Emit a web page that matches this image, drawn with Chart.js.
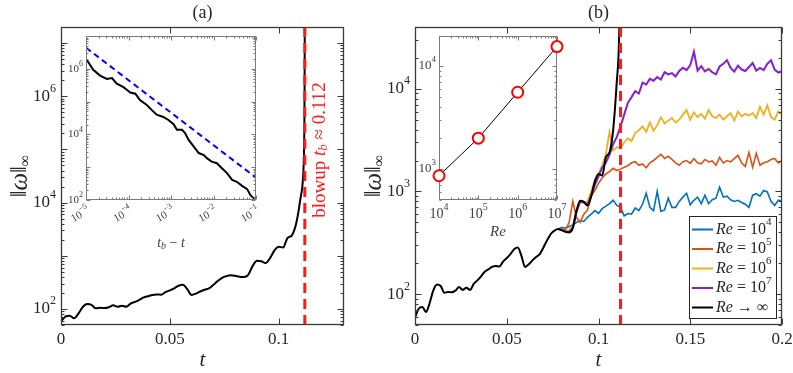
<!DOCTYPE html>
<html>
<head>
<meta charset="utf-8">
<script src="https://cdn.jsdelivr.net/npm/chart.js@4.4.1/dist/chart.umd.min.js"></script>
<style>
html, body { margin: 0; padding: 0; background: #fff; }
#wrap { position: relative; width: 793px; height: 373px; }
#wrap canvas { position: absolute; left: 0; top: 0; }
</style>
</head>
<body>
<div id="wrap">
  <canvas id="mainA" width="793" height="373"></canvas>
  <canvas id="mainB" width="793" height="373"></canvas>
  <canvas id="insetA" width="793" height="373"></canvas>
  <canvas id="insetB" width="793" height="373"></canvas>
</div>
<script>
// ---- data ----
const blowupT = 0.112;

// Re -> infinity (inviscid) run
const blackT = [0, 0.002, 0.004, 0.006, 0.008, 0.010, 0.012, 0.014, 0.016, 0.018, 0.020, 0.022, 0.024, 0.026, 0.028, 0.030,
  0.032, 0.034, 0.036, 0.038, 0.040, 0.042, 0.044, 0.046, 0.048, 0.050, 0.052, 0.054, 0.056, 0.058, 0.060, 0.062,
  0.064, 0.066, 0.068, 0.070, 0.072, 0.074, 0.076, 0.078, 0.080, 0.082, 0.084, 0.086, 0.088, 0.090, 0.092, 0.094,
  0.096, 0.098, 0.100, 0.102, 0.104, 0.106, 0.107, 0.108, 0.109, 0.110, 0.1108, 0.1113, 0.1116, 0.1118, 0.1119, 0.11199];
const blackW = [59, 72, 75, 67, 82, 109, 124, 120, 103, 105, 104, 108, 117, 110, 115, 110,
  126, 136, 149, 165, 174, 184, 188, 186, 207, 224, 245, 274, 285, 236, 184, 195,
  213, 230, 245, 285, 335, 385, 415, 430, 420, 405, 400, 440, 640, 810, 790, 730,
  900, 1250, 1480, 1430, 2150, 2400, 2900, 4000, 6500, 12000, 19000, 35000, 80000, 300000, 2000000, 30000000];

// finite Re runs
const reT = [0.078, 0.080, 0.082, 0.084, 0.086, 0.088, 0.090, 0.092, 0.094, 0.096, 0.098, 0.100, 0.102, 0.104, 0.106, 0.108,
  0.110, 0.112, 0.114, 0.116, 0.118, 0.120, 0.122, 0.124, 0.126, 0.128, 0.130, 0.132, 0.134, 0.136, 0.138, 0.140,
  0.142, 0.144, 0.146, 0.148, 0.150, 0.152, 0.154, 0.156, 0.158, 0.160, 0.162, 0.164, 0.166, 0.168, 0.170, 0.172,
  0.174, 0.176, 0.178, 0.180, 0.182, 0.184, 0.186, 0.188, 0.190, 0.192, 0.194, 0.196, 0.198, 0.200];
const wRe4 = [430, 445, 440, 455, 470, 500, 520, 510, 560, 600, 650, 610, 680, 720, 760, 820,
  730, 700, 580, 610, 600, 690, 650, 750, 960, 700, 650, 1000, 640, 660, 860, 700,
  700, 800, 880, 960, 740, 820, 880, 760, 920, 760, 830, 860, 1100, 880, 900, 830,
  800, 820, 780, 750, 700, 920, 950, 900, 1020, 990, 800, 730, 820, 800];
const wRe5 = [430, 430, 420, 500, 800, 560, 500, 600, 660, 900, 1020, 1200, 1350, 1480, 1560, 1680,
  1600, 1650, 1720, 1780, 1900, 1950, 1800, 1850, 1700, 1900, 2000, 2150, 2300, 2100, 2200, 2050,
  1900, 1800, 1950, 2000, 1880, 2080, 1900, 1860, 2050, 1940, 1980, 1800, 2150, 1900, 2000, 1940,
  2090, 2250, 1900, 1750, 2400, 1720, 2350, 1800, 1900, 1950, 2050, 2100, 1900, 2000];
const wRe6 = [430, 420, 410, 420, 460, 620, 780, 770, 800, 1000, 1300, 1500, 1800, 2300, 3800, 2500,
  2700, 2650, 3000, 3300, 3100, 3700, 3950, 4300, 3800, 4700, 3900, 4400, 5300, 4600, 4900, 5200,
  4700, 5000, 5600, 6200, 5000, 5900, 5300, 5700, 5100, 6200, 5400, 5200, 5600, 5000, 5400, 5800,
  4900, 6000, 5400, 5700, 5500, 5800, 5200, 6700, 5600, 6900, 5300, 5000, 6000, 5600];
const wRe7 = [430, 420, 405, 400, 445, 640, 800, 790, 740, 900, 1150, 1400, 1700, 1900, 2300, 2900,
  3400, 4300, 5600, 7300, 8300, 9500, 9000, 11500, 11000, 12500, 12000, 13000, 12300, 14500, 13800, 14200,
  13200, 14900, 16000, 15200, 17000, 23000, 15000, 16600, 14800, 15600, 14500, 13800, 16500, 17500, 19000, 16000,
  14700, 16800, 15400, 14900, 16300, 17800, 15000, 16000, 15200, 17500, 19000, 15400, 14400, 14800];
const reExps = ['4', '5', '6', '7'];
const reColors = ['#0072BD', '#D95319', '#EDB120', '#8420CF'];
const reWidths = [1.6, 1.6, 1.8, 2];

// inset (a): log-log blowup
const insetGap = [1.05e-5, 1.48e-5, 2.14e-5, 3.1e-5, 4.1e-5, 5.2e-5, 7.6e-5, 9.1e-5, 1.1e-4, 1.45e-4, 1.86e-4, 2.7e-4,
  3.5e-4, 4.6e-4, 6.6e-4, 8.7e-4, 1.15e-3, 1.38e-3, 1.82e-3, 2.14e-3, 2.6e-3, 3.4e-3, 4.5e-3, 5.9e-3,
  7.1e-3, 9.1e-3, 1.2e-2, 1.58e-2, 2.1e-2, 2.75e-2, 3.55e-2, 4.7e-2, 6.2e-2, 7.4e-2, 8.9e-2, 0.1];
const insetW = [1.86e6, 9.3e5, 6.2e5, 4.9e5, 5.2e5, 3.6e5, 2.75e5, 2.3e5, 1.9e5, 1.74e5, 1.12e5, 7.9e4,
  5.6e4, 4.0e4, 3.4e4, 2.75e4, 2.04e4, 1.38e4, 1.38e4, 1.1e4, 6.8e3, 4.3e3, 2.7e3, 2.35e3,
  1.86e3, 1.48e3, 1.32e3, 930, 650, 410, 360, 270, 215, 140, 112, 112];
const slopeGap = [1e-5, 0.1];
const slopeW = [4.4e6, 480];

// inset (b): plateau level vs Re
const insetRe = [1e4, 1e5, 1e6, 1e7];
const insetPlateau = [860, 1990, 5550, 15400];

// tick labels (exponents of 10)
const aYExps = [2, 4, 6];
const bYExps = [2, 3, 4];
const insAXExps = [-5, -4, -3, -2, -1];
const insAYExps = [2, 4, 6];
const insBXExps = [4, 5, 6, 7];
const insBYExps = [3, 4];

// ---- helpers ----
const SERIF = '"Liberation Serif","DejaVu Serif",serif';
const INK = '#262626';
const RED = '#ff1a1a';

function pairs(xs, ys) { return xs.map((x, i) => ({ x: x, y: ys[i] })); }
function fnt(r) { return (r.italic ? 'italic ' : '') + r.size + 'px ' + SERIF; }

function drawRuns(ctx, runs, x, y, align, angle, color) {
  ctx.save();
  ctx.translate(x, y);
  ctx.rotate(angle || 0);
  ctx.fillStyle = color || INK;
  ctx.textBaseline = 'middle';
  ctx.textAlign = 'left';
  let w = 0;
  runs.forEach(r => { ctx.font = fnt(r); r.w = ctx.measureText(r.t).width; w += r.w; });
  let cx = align === 'right' ? -w : align === 'center' ? -w / 2 : 0;
  runs.forEach(r => { ctx.font = fnt(r); ctx.fillText(r.t, cx, r.dy || 0); cx += r.w; });
  ctx.restore();
}

function pow(e, size) {
  const s = e < 0 ? '\u2212' + (-e) : String(e);
  return [{ t: '10', size: size }, { t: s, size: Math.round(size * 0.7), dy: -size * 0.45 }];
}

function logTicks(s) {
  const maj = [], min = [];
  const lo = Math.floor(Math.log10(s.min)), hi = Math.ceil(Math.log10(s.max));
  for (let d = lo; d <= hi; d++) {
    for (let m = 1; m < 10; m++) {
      const v = m * Math.pow(10, d);
      if (v < s.min * 0.9999 || v > s.max * 1.0001) continue;
      (m === 1 ? maj : min).push(v);
    }
  }
  return { maj, min };
}

function frame(chart, color, lenMaj, lenMin, xLog, lw) {
  const { ctx, chartArea: a, scales: { x, y } } = chart;
  const L = Math.round(a.left) + 0.5, R = Math.round(a.right) - 0.5;
  const T = Math.round(a.top) + 0.5, B = Math.round(a.bottom) - 0.5;
  ctx.save();
  ctx.strokeStyle = color;
  ctx.lineWidth = lw || 1;
  ctx.strokeRect(L, T, R - L, B - T);
  ctx.lineWidth = 1;
  ctx.beginPath();
  const xt = xLog ? logTicks(x) : { maj: x.ticks.map(t => t.value), min: [] };
  const yt = logTicks(y);
  const xMark = (v, len) => {
    const p = Math.round(x.getPixelForValue(v)) + 0.5;
    ctx.moveTo(p, B); ctx.lineTo(p, B - len); ctx.moveTo(p, T); ctx.lineTo(p, T + len);
  };
  const yMark = (v, len) => {
    const p = Math.round(y.getPixelForValue(v)) + 0.5;
    ctx.moveTo(L, p); ctx.lineTo(L + len, p); ctx.moveTo(R, p); ctx.lineTo(R - len, p);
  };
  xt.maj.forEach(v => xMark(v, lenMaj));
  xt.min.forEach(v => xMark(v, lenMin));
  yt.maj.forEach(v => yMark(v, lenMaj));
  yt.min.forEach(v => yMark(v, lenMin));
  ctx.stroke();
  ctx.restore();
}

function fitX(h) { return s => { s.height = h; s.paddingLeft = 0; s.paddingRight = 0; }; }
function fitY(w) { return s => { s.width = w; s.paddingTop = 0; s.paddingBottom = 0; }; }

function baseOptions(pad) {
  return {
    responsive: false,
    animation: false,
    events: [],
    layout: { padding: pad },
    plugins: { legend: { display: false }, tooltip: { enabled: false } },
    elements: { point: { radius: 0 }, line: { tension: 0 } }
  };
}

function mainX(max, h) {
  return {
    type: 'linear', min: 0, max: max,
    grid: { display: false, drawTicks: false }, border: { display: false },
    ticks: {
      stepSize: 0.05, includeBounds: false, maxRotation: 0, autoSkip: false, padding: 4,
      color: INK, font: { family: SERIF, size: 17 },
      callback: v => String(+v.toFixed(3))
    },
    afterFit: fitX(h)
  };
}

function logAxis(min, max, w) {
  return {
    type: 'logarithmic', min: min, max: max,
    grid: { display: false, drawTicks: false }, border: { display: false },
    ticks: { display: false },
    afterFit: fitY(w)
  };
}

function omegaTitle(ctx, x, y) {
  drawRuns(ctx, [
    { t: '\u2016', size: 24 }, { t: '\u03c9', size: 25, italic: true }, { t: '\u2016', size: 24 },
    { t: '\u221e', size: 16, dy: 6 }
  ], x, y, 'center', -Math.PI / 2);
}

// ---- panel (a) ----
const aYMin = 50, aYMax = 2e7;
const optA = baseOptions({ left: 21, right: 449, top: 27, bottom: 0 });
optA.scales = { x: mainX(0.13, 48), y: logAxis(aYMin, aYMax, 40) };
new Chart(document.getElementById('mainA'), {
  type: 'line',
  data: {
    datasets: [
      { data: pairs([blowupT, blowupT], [aYMin, aYMax]), borderColor: RED, borderWidth: 3, borderDash: [10, 6], order: 0 },
      { data: pairs(blackT, blackW), borderColor: '#000', borderWidth: 2, cubicInterpolationMode: 'monotone', order: 1 }
    ]
  },
  options: optA,
  plugins: [{
    id: 'decorA',
    afterDraw(chart) {
      const { ctx, chartArea: a, scales: { x, y } } = chart;
      frame(chart, '#3a3a3a', 6, 3, false, 1.3);
      aYExps.forEach(e => drawRuns(ctx, pow(e, 17), a.left - 5, y.getPixelForValue(Math.pow(10, e)), 'right'));
      const cx = (a.left + a.right) / 2;
      drawRuns(ctx, [{ t: '(a)', size: 18 }], cx, 13, 'center');
      drawRuns(ctx, [{ t: 't', size: 21, italic: true }], cx, 360, 'center');
      omegaTitle(ctx, a.left - 41, (a.top + a.bottom) / 2);
      drawRuns(ctx, [
        { t: 'blowup ', size: 19 }, { t: 't', size: 19, italic: true }, { t: 'b', size: 13, italic: true, dy: 4 },
        { t: ' \u2248 0.112', size: 19 }
      ], x.getPixelForValue(blowupT) + 15, 150, 'center', -Math.PI / 2, RED);
    }
  }]
});

// ---- panel (b) ----
const bYMin = 50, bYMax = 40000;
const optB = baseOptions({ left: 375, right: 11, top: 27, bottom: 0 });
optB.scales = { x: mainX(0.2, 48), y: logAxis(bYMin, bYMax, 40) };
const reSeries = [wRe4, wRe5, wRe6, wRe7];
new Chart(document.getElementById('mainB'), {
  type: 'line',
  data: {
    datasets: [
      { data: pairs([blowupT, blowupT], [bYMin, bYMax]), borderColor: RED, borderWidth: 3, borderDash: [10, 6], order: 0 },
      { data: pairs(blackT, blackW), borderColor: '#000', borderWidth: 2, cubicInterpolationMode: 'monotone', order: 1 }
    ].concat(reSeries.map((w, i) => ({
      data: pairs(reT, w), borderColor: reColors[i], borderWidth: reWidths[i], order: 5 - i
    })))
  },
  options: optB,
  plugins: [{
    id: 'decorB',
    afterDraw(chart) {
      const { ctx, chartArea: a, scales: { y } } = chart;
      frame(chart, '#3a3a3a', 6, 3, false, 1.3);
      bYExps.forEach(e => drawRuns(ctx, pow(e, 17), a.left - 5, y.getPixelForValue(Math.pow(10, e)), 'right'));
      const cx = (a.left + a.right) / 2;
      drawRuns(ctx, [{ t: '(b)', size: 18 }], cx, 13, 'center');
      drawRuns(ctx, [{ t: 't', size: 21, italic: true }], cx, 360, 'center');
      omegaTitle(ctx, a.left - 41, (a.top + a.bottom) / 2);
      // legend box, bottom right
      const bx = a.right - 93, by = a.bottom - 109, bw = 87, bh = 102;
      ctx.save();
      ctx.fillStyle = '#fff';
      ctx.fillRect(bx, by, bw, bh);
      ctx.strokeStyle = INK; ctx.lineWidth = 1;
      ctx.strokeRect(bx + 0.5, by + 0.5, bw, bh);
      const cols = reColors.concat(['#000']);
      cols.forEach((c, i) => {
        const ry = by + 13.5 + i * 19.5;
        ctx.strokeStyle = c; ctx.lineWidth = 2;
        ctx.beginPath(); ctx.moveTo(bx + 3, ry); ctx.lineTo(bx + 24, ry); ctx.stroke();
        const runs = [{ t: 'Re', size: 16, italic: true }];
        if (i < reExps.length) {
          runs.push({ t: ' = 10', size: 16 }, { t: reExps[i], size: 11, dy: -7 });
        } else {
          runs.push({ t: ' \u2192 \u221e', size: 16 });
        }
        drawRuns(ctx, runs, bx + 27, ry, 'left');
      });
      ctx.restore();
    }
  }]
});

// ---- inset (a) ----
const optIA = baseOptions({ left: 56, right: 537, top: 36, bottom: 143 });
optIA.scales = {
  x: Object.assign(logAxis(1e-5, 0.1, 0), { afterFit: fitX(30) }),
  y: logAxis(1e2, 1e7, 30)
};
new Chart(document.getElementById('insetA'), {
  type: 'line',
  data: {
    datasets: [
      { data: pairs(slopeGap, slopeW), borderColor: '#0000ff', borderWidth: 2, borderDash: [6, 4], order: 0 },
      { data: pairs(insetGap, insetW), borderColor: '#000', borderWidth: 2, order: 1 }
    ]
  },
  options: optIA,
  plugins: [{
    id: 'decorIA',
    beforeDraw(chart) {
      const { ctx, chartArea: a } = chart;
      ctx.save(); ctx.fillStyle = '#fff'; ctx.fillRect(a.left, a.top, a.width, a.height); ctx.restore();
    },
    afterDraw(chart) {
      const { ctx, chartArea: a, scales: { x, y } } = chart;
      frame(chart, '#7a7a7a', 4, 2, true);
      insAYExps.forEach(e => drawRuns(ctx, pow(e, 11), a.left - 3, y.getPixelForValue(Math.pow(10, e)), 'right', 0, '#404040'));
      insAXExps.forEach(e => drawRuns(ctx, pow(e, 11), x.getPixelForValue(Math.pow(10, e)) + 3, a.bottom + 10,
        'right', -Math.PI / 6, '#404040'));
      drawRuns(ctx, [
        { t: 't', size: 14, italic: true }, { t: 'b', size: 10, italic: true, dy: 3 },
        { t: ' \u2212 ', size: 14 }, { t: 't', size: 14, italic: true }
      ], (a.left + a.right) / 2, 243, 'center', 0, '#404040');
    }
  }]
});

// ---- inset (b) ----
const optIB = baseOptions({ left: 409, right: 236, top: 36, bottom: 143 });
optIB.scales = {
  x: Object.assign(logAxis(1e4, 1e7, 0), { afterFit: fitX(30) }),
  y: logAxis(500, 19500, 30)
};
new Chart(document.getElementById('insetB'), {
  type: 'line',
  data: {
    datasets: [{
      data: pairs(insetRe, insetPlateau), borderColor: '#000', borderWidth: 1, clip: false,
      pointRadius: 5.5, pointBorderWidth: 2, pointBorderColor: '#ff0000', pointBackgroundColor: '#fff'
    }]
  },
  options: optIB,
  plugins: [{
    id: 'decorIB',
    beforeDraw(chart) {
      const { ctx, chartArea: a } = chart;
      ctx.save(); ctx.fillStyle = '#fff'; ctx.fillRect(a.left, a.top, a.width, a.height); ctx.restore();
    },
    beforeDatasetsDraw(chart) {
      frame(chart, '#7a7a7a', 4, 2, true);
    },
    afterDraw(chart) {
      const { ctx, chartArea: a, scales: { x, y } } = chart;
      insBYExps.forEach(e => drawRuns(ctx, pow(e, 13), a.left - 3, y.getPixelForValue(Math.pow(10, e)), 'right', 0, '#404040'));
      insBXExps.forEach(e => drawRuns(ctx, pow(e, 14), x.getPixelForValue(Math.pow(10, e)), a.bottom + 14, 'center', 0, '#404040'));
      drawRuns(ctx, [{ t: 'Re', size: 15, italic: true }], (a.left + a.right) / 2, 232, 'center', 0, '#404040');
    }
  }]
});
</script>
</body>
</html>
